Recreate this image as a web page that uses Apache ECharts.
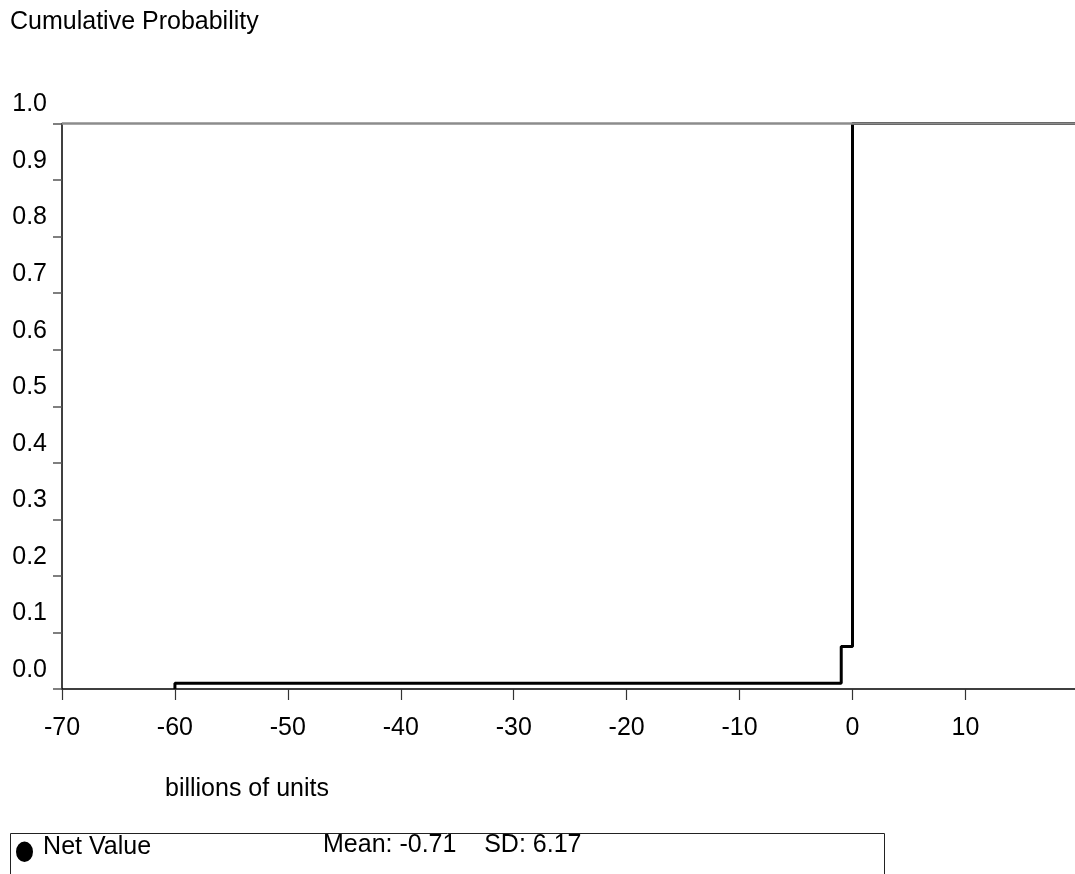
<!DOCTYPE html>
<html>
<head>
<meta charset="utf-8">
<title>Cumulative Probability</title>
<script src="https://cdn.jsdelivr.net/npm/echarts@6/dist/echarts.min.js"></script>
<style>
  html, body { margin: 0; padding: 0; background: #fff; }
  #chart { width: 1075px; height: 874px; }
</style>
</head>
<body>
<div id="chart"></div>
<script>
// values
const seriesName = 'Net Value';
const stepX = [-60, -60, -1, 0, 19.7];
const stepY = [0, 0.01, 0.075, 1, 1];
const yTicks = [0, 0.1, 0.2, 0.3, 0.4, 0.5, 0.6, 0.7, 0.8, 0.9, 1.0];
const xTicks = [-70, -60, -50, -40, -30, -20, -10, 0, 10];
const statMean = -0.71;
const statSD = 6.17;

const FONT = "'Liberation Sans', Arial, sans-serif";
const FS = 25;

const chart = echarts.init(document.getElementById('chart'), null, { renderer: 'canvas' });

const points = stepX.map((x, i) => [x, stepY[i]]);

const option = {
  animation: false,
  backgroundColor: '#fff',
  textStyle: { fontFamily: FONT },
  title: [
    {
      text: 'Cumulative Probability',
      left: 10, top: 10, padding: 0,
      textStyle: { fontFamily: FONT, fontSize: FS, fontWeight: 'normal', color: '#000' }
    },
    {
      text: 'billions of units',
      left: 165, top: 777, padding: 0,
      textStyle: { fontFamily: FONT, fontSize: FS, fontWeight: 'normal', color: '#000' }
    }
  ],
  grid: { left: 62, right: 0, top: 123.5, bottom: 185, containLabel: false },
  xAxis: {
    type: 'value',
    min: xTicks[0],
    max: stepX[stepX.length - 1],
    interval: 10,
    axisLine: { onZero: false, lineStyle: { color: '#000', width: 1.5 } },
    axisTick: { show: true, inside: false, length: 11, lineStyle: { color: '#333', width: 1.2 } },
    axisLabel: {
      margin: 27, fontSize: FS, color: '#000', fontFamily: FONT,
      showMaxLabel: false,
      formatter: v => (xTicks.includes(v) ? String(v) : '')
    },
    splitLine: { show: false }
  },
  yAxis: {
    type: 'value',
    min: yTicks[0],
    max: yTicks[yTicks.length - 1],
    interval: 0.1,
    axisLine: { show: true, onZero: false, lineStyle: { color: '#000', width: 1.5 } },
    axisTick: { show: true, inside: false, length: 9, lineStyle: { color: '#555', width: 1.5 } },
    axisLabel: {
      margin: 15, fontSize: FS, color: '#000', fontFamily: FONT,
      // labels sit half a step above their tick, as in the source chart
      lineHeight: 38,
      verticalAlign: 'bottom',
      showMinLabel: true, showMaxLabel: true,
      formatter: v => v.toFixed(1)
    },
    splitLine: { show: false }
  },
  legend: {
    left: 16, top: 833,
    padding: 0,
    itemWidth: 22.1, itemHeight: 35,
    // ellipse marker, with empty strips above and right so it sits lower and the text further off
    icon: 'path://M26,-10L26,-10M10,0A10,12,0,1,1,10,24A10,12,0,1,1,10,0Z',
    textStyle: { fontFamily: FONT, fontSize: FS, color: '#000' },
    data: [{ name: seriesName, itemStyle: { color: '#000' } }]
  },
  series: [
    {
      name: 'top',
      type: 'line',
      data: [],
      z: 1,
      silent: true,
      markLine: {
        silent: true,
        symbol: 'none',
        label: { show: false },
        lineStyle: { color: '#8c8c8c', width: 2.5, type: 'solid' },
        data: [{ yAxis: 1 }]
      }
    },
    {
      name: seriesName,
      type: 'line',
      step: 'end',
      data: points,
      z: 3,
      showSymbol: false,
      symbol: 'none',
      lineStyle: { color: '#000', width: 3 },
      itemStyle: { color: '#000' }
    }
  ],
  graphic: [
    {
      type: 'rect',
      left: 8, top: 831,
      shape: { width: 874, height: 60 },
      style: { fill: 'none', stroke: '#222', lineWidth: 1 }
    },
    {
      type: 'text',
      left: 323, top: 833,
      style: {
        text: 'Mean: ' + statMean.toFixed(2) + '    SD: ' + statSD.toFixed(2),
        font: FS + 'px ' + FONT,
        fill: '#000'
      }
    }
  ]
};

chart.setOption(option);
</script>
</body>
</html>
